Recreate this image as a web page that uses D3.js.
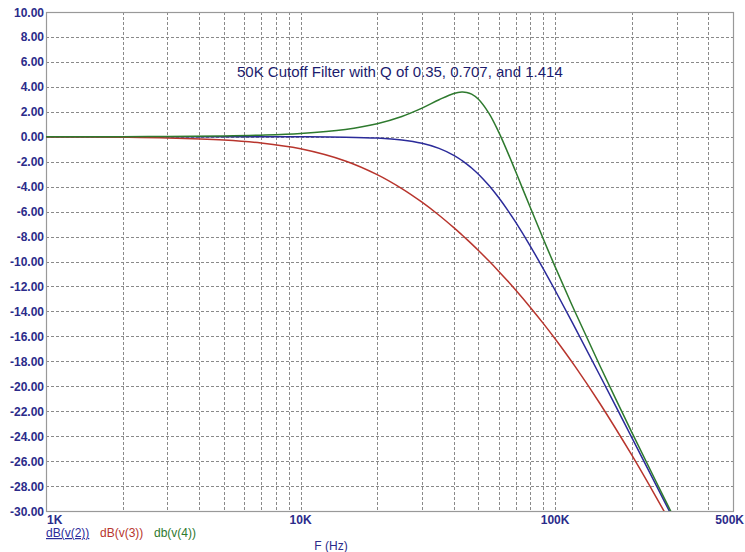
<!DOCTYPE html>
<html>
<head>
<meta charset="utf-8">
<script src="https://cdn.jsdelivr.net/npm/d3@7"></script>
<style>
  body { margin: 0; background: #fff; }
  svg text { font-family: "Liberation Sans", Arial, sans-serif; }
</style>
</head>
<body>
<script>
var freqs = [1000, 2000, 3000, 5000, 7000, 10000, 15000, 20000, 25000, 30000, 35000, 40000, 43000, 45000, 47000,
    50000, 55000, 60000, 65000, 70000, 80000, 90000, 100000, 120000, 150000, 200000, 250000, 300000];
// dB(v(2))  Q = 0.707
var v2 = [0, 0, 0, 0, -0.002, -0.007, -0.035, -0.11, -0.263, -0.529, -0.935, -1.491, -1.895, -2.191, -2.506,
    -3.01, -3.917, -4.876, -5.862, -6.85, -8.782, -10.606, -12.304, -15.337, -19.138, -24.099, -27.966, -31.13];
// dB(v(3))  Q = 0.35
var v3 = [-0.011, -0.043, -0.095, -0.26, -0.497, -0.963, -1.939, -3.036, -4.155, -5.248, -6.294, -7.287, -7.857, -8.227, -8.589,
    -9.119, -9.966, -10.773, -11.545, -12.284, -13.68, -14.979, -16.196, -18.431, -21.382, -25.51, -28.922, -31.815];
// db(v(4))  Q = 1.414
var v4 = [0.003, 0.01, 0.024, 0.065, 0.128, 0.261, 0.589, 1.048, 1.627, 2.294, 2.966, 3.472, 3.589, 3.554, 3.417,
    3.01, 1.877, 0.392, -1.209, -2.791, -5.698, -8.22, -10.414, -14.072, -18.357, -23.674, -27.697, -30.945];

var yTicks = [10, 8, 6, 4, 2, 0, -2, -4, -6, -8, -10, -12, -14, -16, -18, -20, -22, -24, -26, -28, -30];
var xLabels = [[1000, "1K"], [10000, "10K"], [100000, "100K"], [500000, "500K"]];
var legend = [["dB(v(2))", "#2b2b9a"], ["dB(v(3))", "#b8352d"], ["db(v(4))", "#2e7a2e"]];
var title = "50K Cutoff Filter with Q of 0.35, 0.707, and 1.414";

var W = 745, H = 552;
var margin = {top: 12, right: 12, bottom: 41, left: 46};
var width = W - margin.left - margin.right,
    height = H - margin.top - margin.bottom;
var labelColor = "#2b2b8a";

const svg = d3.select("body")
    .append("svg")
    .attr("width", W)
    .attr("height", H);

var xscale = d3.scaleLog()
    .domain([1000, 500000])
    .range([margin.left, margin.left + width]);
var yscale = d3.scaleLinear()
    .domain([-30, 10])
    .range([margin.top + height, margin.top]);

// minor log grid: 2..9 in each decade plus decades
var gridX = [];
[1000, 10000, 100000].forEach(function(dec) {
    for (var k = 1; k <= 9; k++) {
        var f = dec * k;
        if (f > 1000 && f < 500000) gridX.push(f);
    }
});

var grid = svg.append("g")
    .attr("stroke", "#8a8a8a")
    .attr("stroke-width", 1)
    .attr("stroke-dasharray", "3,2");
grid.selectAll(".gx").data(gridX).join("line")
    .attr("x1", d => Math.round(xscale(d)) + 0.5)
    .attr("x2", d => Math.round(xscale(d)) + 0.5)
    .attr("y1", margin.top)
    .attr("y2", margin.top + height);
grid.selectAll(".gy").data(yTicks.slice(1, -1)).join("line")
    .attr("x1", margin.left)
    .attr("x2", margin.left + width)
    .attr("y1", d => Math.round(yscale(d)) + 0.5)
    .attr("y2", d => Math.round(yscale(d)) + 0.5);

// frame
svg.append("rect")
    .attr("x", margin.left + 0.5)
    .attr("y", margin.top + 0.5)
    .attr("width", width)
    .attr("height", height)
    .attr("fill", "none")
    .attr("stroke", "#999")
    .attr("stroke-width", 1.2);

// y labels
svg.append("g").selectAll("text").data(yTicks).join("text")
    .attr("x", margin.left - 2)
    .attr("y", d => yscale(d) + 4.5)
    .attr("text-anchor", "end")
    .attr("font-size", 12)
    .attr("font-weight", "bold")
    .attr("fill", labelColor)
    .text(d => d.toFixed(2));

// x labels (first starts at the axis, last kept inside the page)
svg.append("g").selectAll("text").data(xLabels).join("text")
    .attr("x", (d, i) => i === 0 ? xscale(d[0]) + 1 : (i === xLabels.length - 1 ? W - 1 : xscale(d[0])))
    .attr("y", margin.top + height + 13)
    .attr("text-anchor", (d, i) => i === 0 ? "start" : (i === xLabels.length - 1 ? "end" : "middle"))
    .attr("font-size", 12)
    .attr("font-weight", "bold")
    .attr("fill", labelColor)
    .text(d => d[1]);

svg.append("text")
    .attr("x", 331)
    .attr("y", 550)
    .attr("text-anchor", "middle")
    .attr("font-size", 12)
    .attr("fill", labelColor)
    .text("F (Hz)");

// legend
var lx = [46, 100, 154];
legend.forEach((d, i) => {
    svg.append("text")
        .attr("x", lx[i])
        .attr("y", 537)
        .attr("font-size", 12)
        .attr("fill", d[1])
        .attr("text-decoration", i === 0 ? "underline" : null)
        .text(d[0]);
});

// title
svg.append("text")
    .attr("x", 237)
    .attr("y", 77)
    .attr("font-size", 15)
    .attr("fill", "#1c1c6e")
    .text(title);

// curves
svg.append("clipPath").attr("id", "clip")
    .append("rect")
    .attr("x", margin.left)
    .attr("y", margin.top)
    .attr("width", width)
    .attr("height", height);

var line = d3.line()
    .x(d => xscale(d[0]))
    .y(d => yscale(d[1]))
    .curve(d3.curveCatmullRom);

[[v2, legend[0][1]], [v3, legend[1][1]], [v4, legend[2][1]]].forEach(s => {
    svg.append("path")
        .datum(freqs.map((f, i) => [f, s[0][i]]))
        .attr("clip-path", "url(#clip)")
        .attr("fill", "none")
        .attr("stroke", s[1])
        .attr("stroke-width", 1.5)
        .attr("d", line);
});
</script>
</body>
</html>
